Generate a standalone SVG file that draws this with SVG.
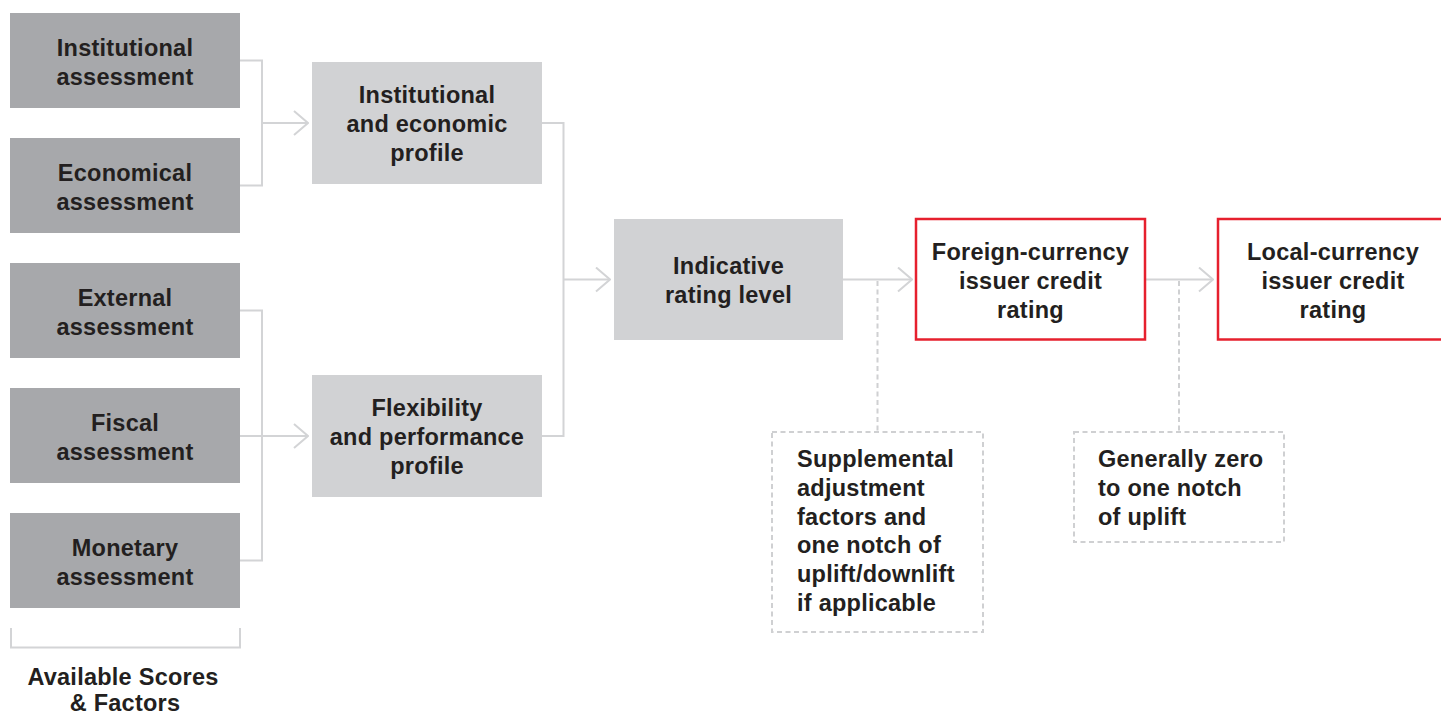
<svg xmlns="http://www.w3.org/2000/svg" width="1441" height="715" viewBox="0 0 1441 715">
<style>
.dk{fill:#a7a8ab}
.lt{fill:#d1d2d4}
.red{fill:#ffffff;stroke:#e6202e;stroke-width:2.5}
.dash{fill:none;stroke:#cfd0d2;stroke-width:2;stroke-dasharray:5 3.5}
.ln{fill:none;stroke:#d3d4d6;stroke-width:2}
text{font-family:"Liberation Sans",Arial,sans-serif;font-weight:bold;font-size:23.5px;letter-spacing:0.25px;fill:#231f20}
.c{text-anchor:middle}
</style>
<defs>
<marker id="arr" viewBox="0 0 16 26" refX="15" refY="13" markerWidth="16" markerHeight="26" markerUnits="userSpaceOnUse" orient="auto">
<path d="M1,1 L15,13 L1,25" fill="none" stroke="#d3d4d6" stroke-width="2"/>
</marker>
</defs>
<g id="connectors">
<path class="ln" d="M240,60.5 H262 V185.5 H240"/>
<path class="ln" d="M262,123 H308" marker-end="url(#arr)"/>
<path class="ln" d="M240,310.5 H262 V560.5 H240"/>
<path class="ln" d="M240,436 H308" marker-end="url(#arr)"/>
<path class="ln" d="M542,123 H563.5 V436 H542"/>
<path class="ln" d="M563.5,279.5 H610" marker-end="url(#arr)"/>
<path class="ln" d="M843,279.5 H912" marker-end="url(#arr)"/>
<path class="ln" d="M1146,279.5 H1213" marker-end="url(#arr)"/>
<path class="dash" d="M877.5,281 V431"/>
<path class="dash" d="M1179,281 V431"/>
<path class="ln" d="M11,628 V647.5 H240 V628"/>
</g>
<g id="n-institutional-assessment">
<rect class="dk" x="10" y="13" width="230" height="95"/>
<text class="c" x="125" y="56">Institutional</text>
<text class="c" x="125" y="85">assessment</text>
</g>
<g id="n-economical-assessment">
<rect class="dk" x="10" y="138" width="230" height="95"/>
<text class="c" x="125" y="181">Economical</text>
<text class="c" x="125" y="210">assessment</text>
</g>
<g id="n-external-assessment">
<rect class="dk" x="10" y="263" width="230" height="95"/>
<text class="c" x="125" y="306">External</text>
<text class="c" x="125" y="335">assessment</text>
</g>
<g id="n-fiscal-assessment">
<rect class="dk" x="10" y="388" width="230" height="95"/>
<text class="c" x="125" y="431">Fiscal</text>
<text class="c" x="125" y="460">assessment</text>
</g>
<g id="n-monetary-assessment">
<rect class="dk" x="10" y="513" width="230" height="95"/>
<text class="c" x="125" y="556">Monetary</text>
<text class="c" x="125" y="585">assessment</text>
</g>
<g id="n-available-scores">
<text class="c" x="123" y="685">Available Scores</text>
<text class="c" x="125" y="711">&amp; Factors</text>
</g>
<g id="n-institutional-economic-profile">
<rect class="lt" x="312" y="62" width="230" height="122"/>
<text class="c" x="427" y="103">Institutional</text>
<text class="c" x="427" y="132">and economic</text>
<text class="c" x="427" y="161">profile</text>
</g>
<g id="n-flexibility-performance-profile">
<rect class="lt" x="312" y="375" width="230" height="122"/>
<text class="c" x="427" y="416">Flexibility</text>
<text class="c" x="427" y="445">and performance</text>
<text class="c" x="427" y="474">profile</text>
</g>
<g id="n-indicative-rating-level">
<rect class="lt" x="614" y="219" width="229" height="121"/>
<text class="c" x="728.5" y="274">Indicative</text>
<text class="c" x="728.5" y="303">rating level</text>
</g>
<g id="n-foreign-currency">
<rect class="red" x="916" y="219" width="229" height="120.5"/>
<text class="c" x="1030.5" y="260">Foreign-currency</text>
<text class="c" x="1030.5" y="289">issuer credit</text>
<text class="c" x="1030.5" y="318">rating</text>
</g>
<g id="n-local-currency">
<rect class="red" x="1218" y="219" width="240" height="120.5"/>
<text class="c" x="1333" y="260">Local-currency</text>
<text class="c" x="1333" y="289">issuer credit</text>
<text class="c" x="1333" y="318">rating</text>
</g>
<g id="n-supplemental">
<rect class="dash" x="772" y="432" width="211" height="200"/>
<text x="797" y="467">Supplemental</text>
<text x="797" y="496">adjustment</text>
<text x="797" y="524.5">factors and</text>
<text x="797" y="553">one notch of</text>
<text x="797" y="582">uplift/downlift</text>
<text x="797" y="610.5">if applicable</text>
</g>
<g id="n-generally-zero">
<rect class="dash" x="1074" y="432" width="210" height="110"/>
<text x="1098" y="467">Generally zero</text>
<text x="1098" y="496">to one notch</text>
<text x="1098" y="524.5">of uplift</text>
</g>
</svg>
